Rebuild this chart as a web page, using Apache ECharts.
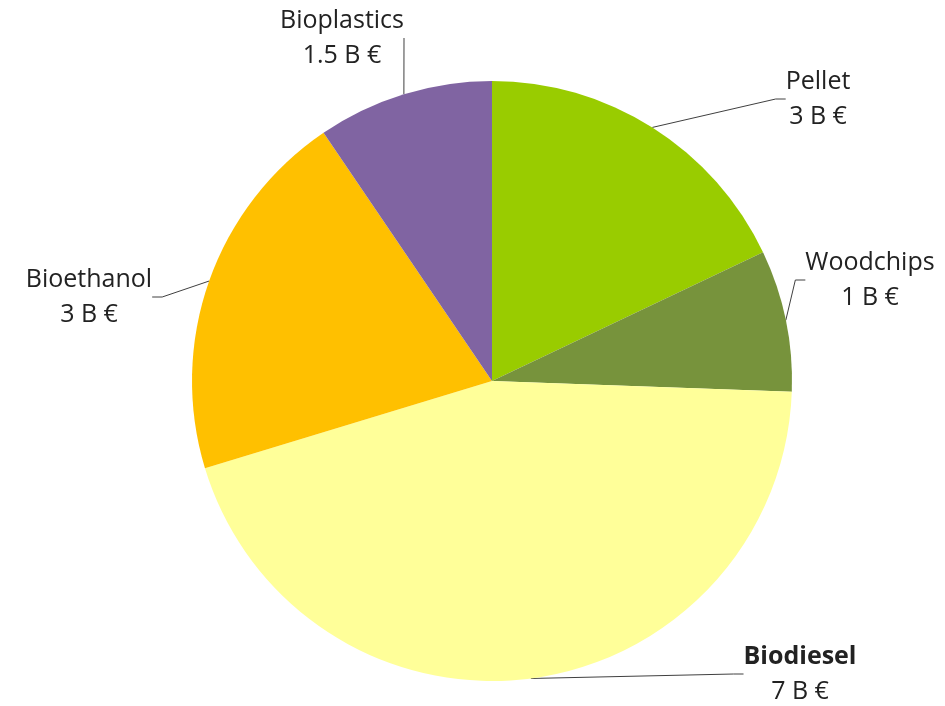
<!DOCTYPE html>
<html>
<head>
<meta charset="utf-8">
<script src="https://cdn.jsdelivr.net/npm/echarts@6/dist/echarts.min.js"></script>
<style>
  html, body { margin: 0; padding: 0; background: #fff; }
  #pie { width: 945px; height: 706px; }
</style>
</head>
<body>
<div id="pie"></div>
<script>
// data (values from slice angles, labels as printed)
var names = ['Pellet', 'Woodchips', 'Biodiesel', 'Bioethanol', 'Bioplastics'];
var values = [2.78, 1.18, 6.93, 3.13, 1.47];
var valueLabels = ['3 B €', '1 B €', '7 B €', '3 B €', '1.5 B €'];
var colors = ['#99cc00', '#77933c', '#ffff99', '#ffc000', '#8064a2'];

// where each label text sits (centre of text block)
var labelPos = [
  [818, 99],
  [870, 280],
  [800, 674],
  [89, 297],
  [342, 38]
];

var myChart = echarts.init(document.getElementById('pie'));
var option = {
  backgroundColor: '#ffffff',
  animation: false,
  series: [
    {
      type: 'pie',
      center: [492, 381],
      radius: 300,
      startAngle: 90,
      clockwise: true,
      data: names.map(function (n, i) {
        return { name: n, value: values[i], itemStyle: { color: colors[i] } };
      }),
      label: {
        show: true,
        position: 'outside',
        align: 'center',
        fontFamily: 'Open Sans',
        fontSize: 25,
        color: '#222222',
        lineHeight: 35,
        formatter: function (p) {
          var t = p.name === 'Biodiesel' ? 'b' : 'n';
          return '{' + t + '|' + p.name + '}\n{n|' + valueLabels[p.dataIndex] + '}';
        },
        rich: {
          n: { fontFamily: 'Open Sans', fontSize: 25, color: '#222222', lineHeight: 35 },
          b: { fontFamily: 'Open Sans', fontSize: 25, fontWeight: 'bold', color: '#222222', lineHeight: 35 }
        }
      },
      labelLine: {
        show: true,
        length: 10,
        length2: 10,
        lineStyle: { color: '#404040', width: 1 }
      },
      labelLayout: function (params) {
        var p = labelPos[params.dataIndex];
        return { x: p[0], y: p[1], align: 'center', verticalAlign: 'middle' };
      },
      emphasis: { disabled: true }
    }
  ]
};
myChart.setOption(option);
</script>
</body>
</html>
